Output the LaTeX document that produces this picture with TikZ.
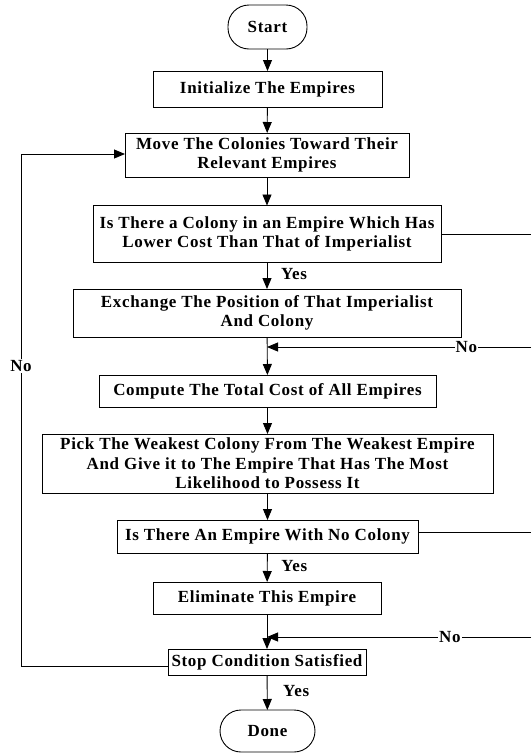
\documentclass[tikz,border=0pt]{standalone}
\usepackage{fontspec}
\setmainfont{Liberation Serif}[LetterSpace=4]
\usetikzlibrary{arrows.meta}
\begin{document}
\begin{tikzpicture}[x=1pt,y=-1pt,
  every node/.style={font=\fontsize{17}{19.5}\selectfont\bfseries, inner sep=0pt, outer sep=0pt},
  box/.style={draw, line width=0.9pt, align=center},
  term/.style={draw, line width=0.9pt, rounded corners=21pt},
  lbl/.style={fill=white, inner sep=1pt},
  conn/.style={line width=0.9pt},
  arr/.style={conn, -{Triangle[length=11pt,width=9pt]}}
]
\useasboundingbox (0,0) rectangle (531,756);
\node[term, minimum width=79pt, minimum height=44pt] (start) at (267.5,27) {Start};
\node[box, minimum width=229pt, minimum height=36pt] (init) at (267.5,89) {Initialize The Empires};
\node[box, minimum width=284pt, minimum height=44pt] (move) at (267,155) {Move The Colonies Toward Their\\Relevant Empires};
\node[box, minimum width=348pt, minimum height=57pt] (dec1) at (267,234) {Is There a Colony in an Empire Which Has\\Lower Cost Than That of Imperialist};
\node[box, minimum width=388pt, minimum height=48pt] (exch) at (267,313) {Exchange The Position of That Imperialist\\And Colony};
\node[box, minimum width=337pt, minimum height=32pt] (comp) at (267.5,391) {Compute The Total Cost of All Empires};
\node[box, minimum width=451pt, minimum height=59pt] (pick) at (267.5,463.5) {Pick The Weakest Colony From The Weakest Empire\\And Give it to The Empire That Has The Most\\Likelihood to Possess It};
\node[box, minimum width=301pt, minimum height=33pt] (dec2) at (267.5,536.5) {Is There An Empire With No Colony};
\node[box, minimum width=228pt, minimum height=32pt] (elim) at (267,598) {Eliminate This Empire};
\node[box, minimum width=198pt, minimum height=26pt] (stop) at (267,662) {Stop Condition Satisfied};
\node[term, minimum width=95pt, minimum height=42pt] (done) at (267.5,731) {Done};

\coordinate (m1) at (267,347);
\coordinate (m2) at (267,637);
\coordinate (r1) at (531,234);
\coordinate (r2) at (531,347);
\coordinate (r3) at (531,532);
\coordinate (r4) at (531,637);
\coordinate (l1) at (21,666);
\coordinate (l2) at (21,154);

\draw[arr] (start) -- (init);
\draw[arr] (init) -- (move);
\draw[arr] (move) -- (dec1);
\draw[arr] (dec1) -- node[right=14pt, pos=0.45]{Yes} (exch);
\draw[arr] (exch) -- (comp);
\draw[arr] (comp) -- (pick);
\draw[arr] (pick) -- (dec2);
\draw[arr] (dec2) -- node[right=14pt, pos=0.45]{Yes} (elim);
\draw[arr] (elim) -- (stop);
\draw[arr] (stop) -- node[right=16pt, pos=0.45]{Yes} (done);

\draw[conn] (dec1.east |- r1) -- (r1);
\draw[arr] (r2) -- node[lbl, pos=0.245]{No} (m1);
\draw[conn] (dec2.east |- r3) -- (r3);
\draw[arr] (r4) -- node[lbl, pos=0.307]{No} (m2);
\draw[arr] (stop.west |- l1) -- (l1) -- node[lbl, pos=0.586]{No} (l2) -- (move.west |- l2);
\end{tikzpicture}
\end{document}
